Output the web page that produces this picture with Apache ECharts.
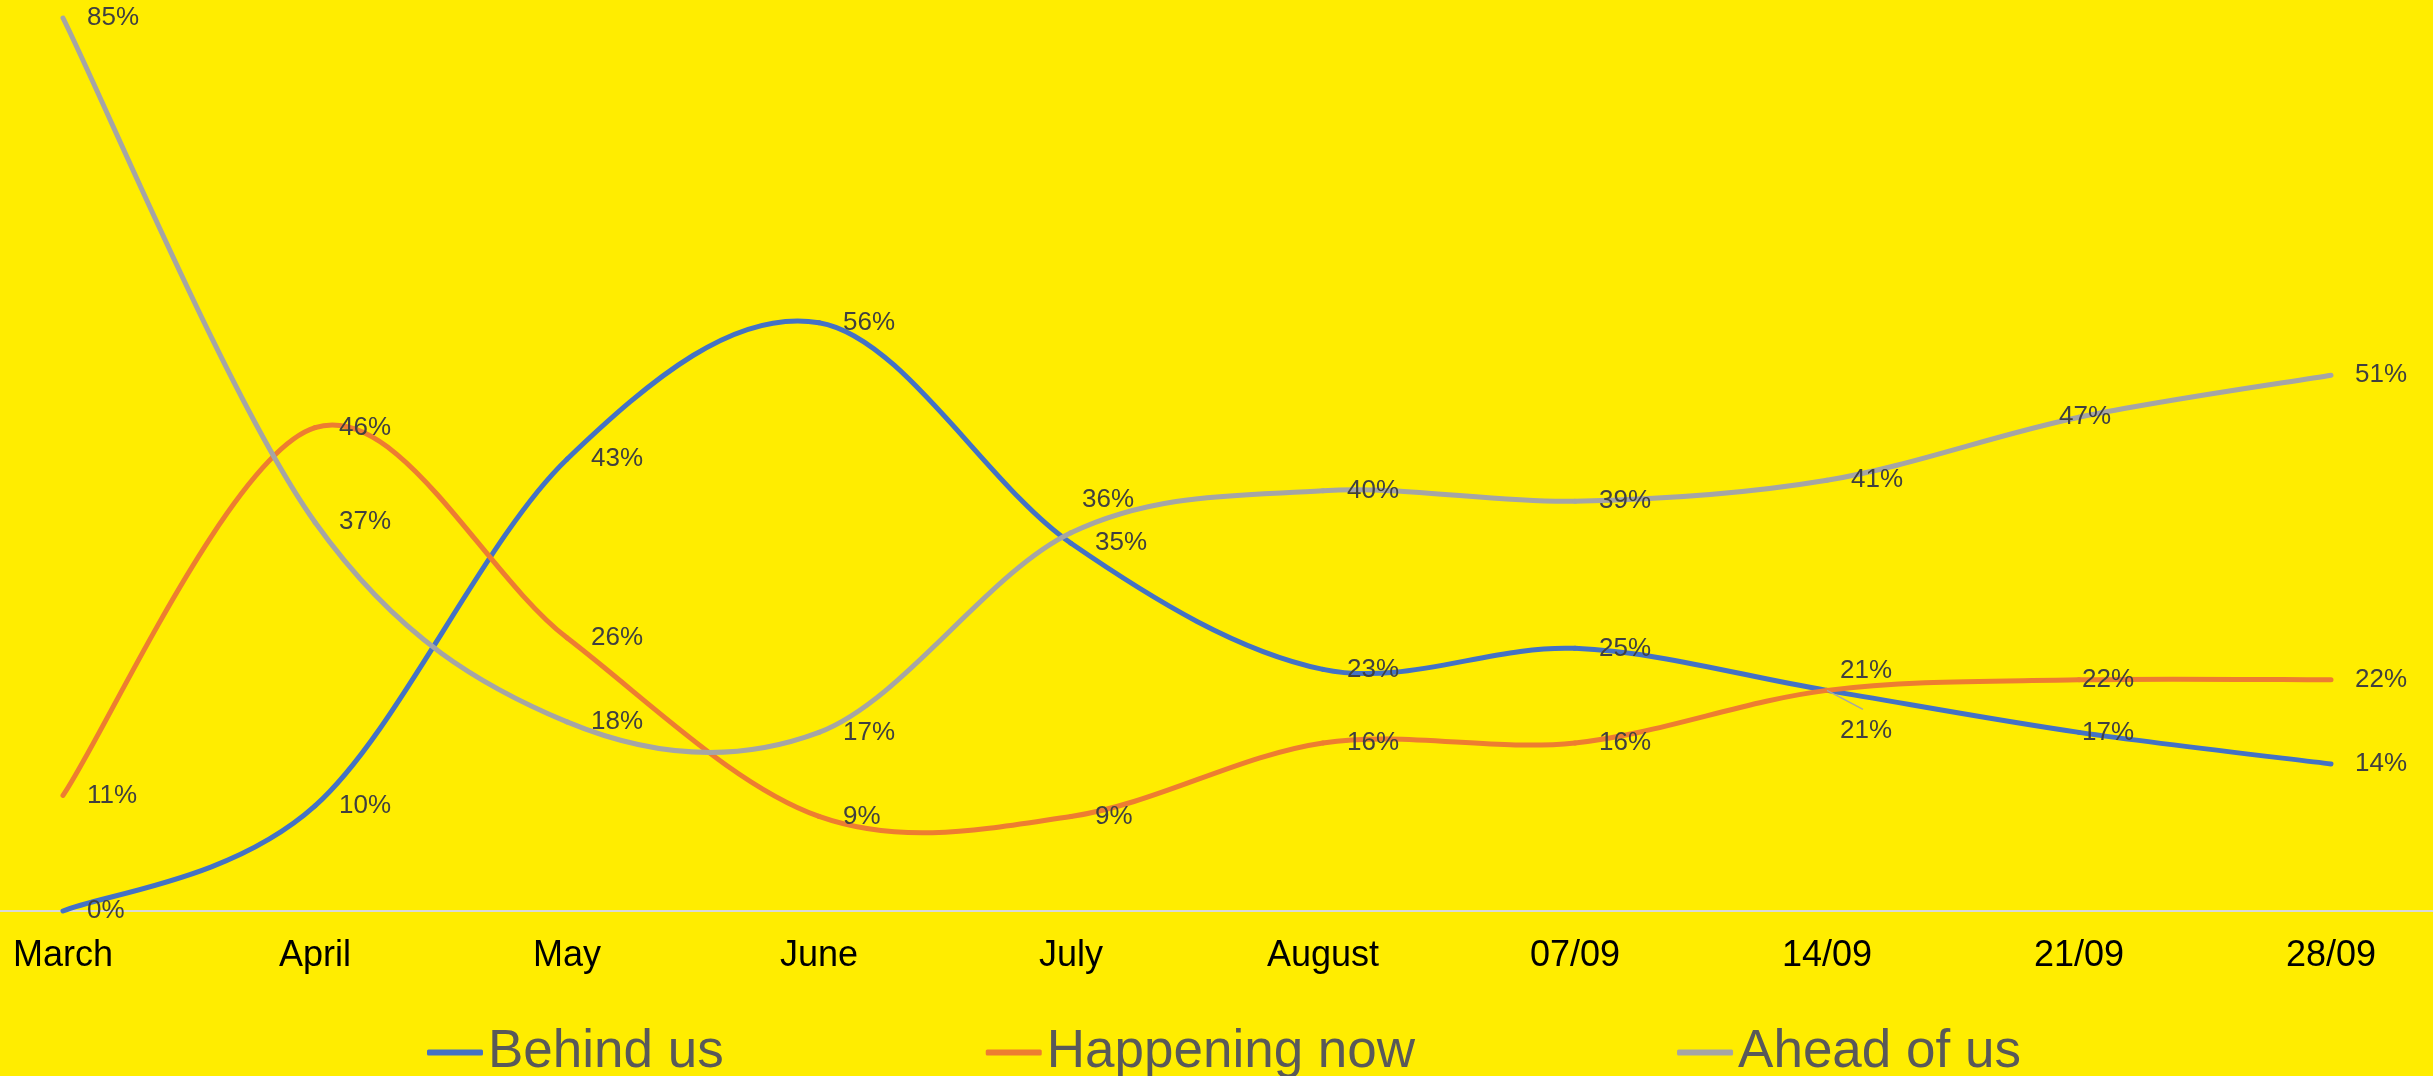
<!DOCTYPE html>
<html>
<head>
<meta charset="utf-8">
<script src="https://cdn.jsdelivr.net/npm/echarts@6/dist/echarts.min.js"></script>
<style>
html,body{margin:0;padding:0;background:#FFED00;}
#chart{width:2433px;height:1076px;}
</style>
</head>
<body>
<div id="chart"></div>
<script>
const categories = ['March','April','May','June','July','August','07/09','14/09','21/09','28/09'];
const behindUs = [0, 10, 43, 56, 35, 23, 25, 21, 17, 14];
const happeningNow = [11, 46, 26, 9, 9, 16, 16, 21, 22, 22];
const aheadOfUs = [85, 37, 18, 17, 36, 40, 39, 41, 47, 51];
const seriesNames = ['Behind us', 'Happening now', 'Ahead of us'];
const colors = ['#4472C4', '#ED7D31', '#A5A5A5'];

const FONT = 'Liberation Sans, Arial, sans-serif';
const LINE_W = 5;

function withLabels(values, overrides) {
  return values.map((v, i) => overrides[i] ? { value: v, label: Object.assign({}, overrides[i]) } : v);
}

const behindOverrides = { 7: { offset: [-11, 40] }, 8: { offset: [-21, 0] } };
const happeningOverrides = { 7: { offset: [-11, -20] }, 8: { offset: [-21, 0] } };
const aheadOverrides = { 4: { offset: [-13, -33] }, 8: { offset: [-44, 0] } };
const behindLeader = { 7: [36, 19] };

// Smoothed (Catmull-Rom style, like a spreadsheet "smoothed line") curve,
// drawn segment by segment through the chart's own axes.
function smoothSeries(name, values, color, leaders) {
  const n = values.length;
  return {
    name: name,
    type: 'custom',
    coordinateSystem: 'cartesian2d',
    xAxisIndex: 0,
    yAxisIndex: 0,
    silent: true,
    z: 2,
    animation: false,
    data: values.map((v, i) => [i, v]),
    renderItem: function (params, api) {
      const i = params.dataIndex;
      const children = [];
      const P = (k) => {
        const kk = Math.max(0, Math.min(n - 1, k));
        return api.coord([kk, values[kk]]);
      };
      if (i < n - 1) {
        const p0 = P(i - 1), p1 = P(i), p2 = P(i + 1), p3 = P(i + 2);
        const c1 = [p1[0] + (p2[0] - p0[0]) / 6, p1[1] + (p2[1] - p0[1]) / 6];
        const c2 = [p2[0] - (p3[0] - p1[0]) / 6, p2[1] - (p3[1] - p1[1]) / 6];
        children.push({
          type: 'bezierCurve',
          shape: { x1: p1[0], y1: p1[1], x2: p2[0], y2: p2[1], cpx1: c1[0], cpy1: c1[1], cpx2: c2[0], cpy2: c2[1] },
          style: { fill: null, stroke: color, lineWidth: LINE_W, lineCap: 'round' }
        });
      }
      if (leaders && leaders[i]) {
        const p = api.coord([i, values[i]]);
        children.push({
          type: 'line',
          z2: 10,
          shape: { x1: p[0], y1: p[1], x2: p[0] + leaders[i][0], y2: p[1] + leaders[i][1] },
          style: { stroke: '#A6A6A6', lineWidth: 1.5 }
        });
      }
      return { type: 'group', children: children };
    }
  };
}

function labelSeries(name, values, color, overrides) {
  return {
    name: name,
    type: 'line',
    z: 3,
    data: withLabels(values, overrides),
    symbol: 'circle',
    symbolSize: 0.1,
    showSymbol: true,
    itemStyle: { color: 'rgba(0,0,0,0)', borderWidth: 0 },
    lineStyle: { color: color, width: 0, opacity: 0 },
    label: {
      show: true,
      position: 'right',
      distance: 24,
      formatter: '{c}%',
      fontFamily: FONT,
      fontSize: 26,
      color: '#404040'
    },
    silent: true,
    emphasis: { disabled: true },
    animation: false
  };
}

const chart = echarts.init(document.getElementById('chart'), null, { renderer: 'canvas' });
chart.setOption({
  backgroundColor: '#FFED00',
  animation: false,
  grid: [
    { left: 63, right: 102, top: 18, bottom: 165, containLabel: false },
    { left: 0, right: 0, top: 18, bottom: 165, containLabel: false }
  ],
  legend: {
    data: seriesNames.map((n, i) => ({ name: n, itemStyle: { color: colors[i], opacity: 1 } })),
    left: 422,
    top: 1021,
    icon: 'roundRect',
    itemWidth: 56,
    itemHeight: 6,
    itemGap: 262,
    textStyle: { fontFamily: FONT, fontSize: 53, color: '#595959' }
  },
  xAxis: [
    {
      type: 'category',
      gridIndex: 0,
      data: categories,
      boundaryGap: false,
      axisLine: { show: false },
      axisTick: { show: false },
      axisLabel: { fontFamily: FONT, fontSize: 36, color: '#000000', margin: 27, interval: 0 },
      splitLine: { show: false }
    },
    {
      type: 'value',
      gridIndex: 1,
      min: 0,
      max: 1,
      axisLine: { show: true, lineStyle: { color: '#D9D9D9', width: 2 } },
      axisTick: { show: false },
      axisLabel: { show: false },
      splitLine: { show: false }
    }
  ],
  yAxis: [
    { type: 'value', gridIndex: 0, min: 0, max: 85, show: false, splitLine: { show: false } },
    { type: 'value', gridIndex: 1, min: 0, max: 1, show: false, splitLine: { show: false } }
  ],
  series: [
    smoothSeries(seriesNames[0], behindUs, colors[0], behindLeader),
    smoothSeries(seriesNames[1], happeningNow, colors[1], null),
    smoothSeries(seriesNames[2], aheadOfUs, colors[2], null),
    labelSeries(seriesNames[0], behindUs, colors[0], behindOverrides),
    labelSeries(seriesNames[1], happeningNow, colors[1], happeningOverrides),
    labelSeries(seriesNames[2], aheadOfUs, colors[2], aheadOverrides)
  ]
});
</script>
</body>
</html>
